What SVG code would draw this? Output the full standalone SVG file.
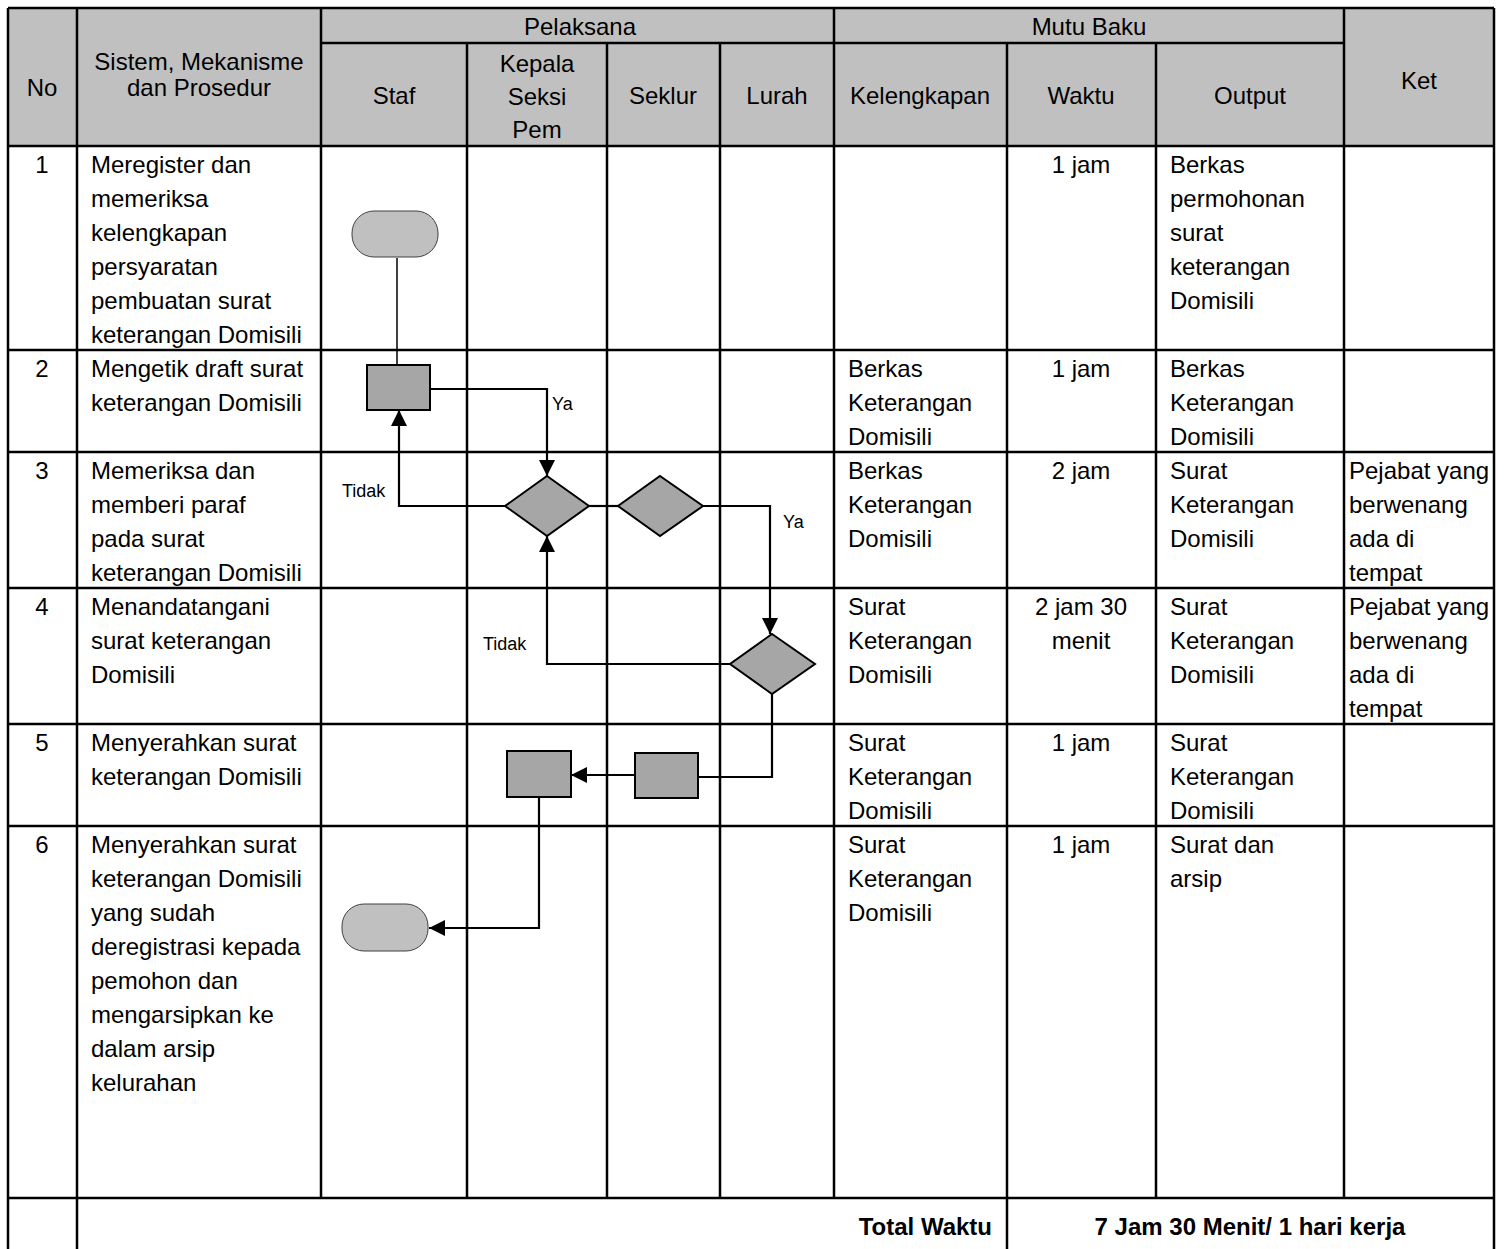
<svg xmlns="http://www.w3.org/2000/svg" width="1507" height="1249" viewBox="0 0 1507 1249">
<style>
text{font-family:"Liberation Sans",Arial,sans-serif;font-size:24px;fill:#000}
.c{text-anchor:middle}
.b{font-weight:bold}
.s{font-size:18px}
.grid{stroke:#000;stroke-width:2.5;fill:none}
.conn{stroke:#000;stroke-width:2.2;fill:none}
.thin{stroke:#000;stroke-width:1.5;fill:none}
.term{fill:#c0c0c0;stroke:#404040;stroke-width:1}
.proc{fill:#a6a6a6;stroke:#000;stroke-width:2}
.dec{fill:#a6a6a6;stroke:#000;stroke-width:2}
</style>
<defs>
<marker id="arr" viewBox="0 0 16 16" refX="16" refY="8" markerWidth="16" markerHeight="16" orient="auto" markerUnits="userSpaceOnUse"><path d="M0,0 L16,8 L0,16 z" fill="#000"/></marker>
</defs>
<rect x="0" y="0" width="1507" height="1249" fill="#fff"/>
<g id="table">
<rect x="8" y="8" width="1486" height="138" fill="#c0c0c0"/>
<path class="grid" d="M8,8 H1494 M321,43 H1344 M8,146 H1494 M8,350 H1494 M8,452 H1494 M8,588 H1494 M8,724 H1494 M8,826 H1494 M8,1198 H1494
M8,8 V1249 M77,8 V1249 M321,8 V1198 M467,43 V1198 M607,43 V1198 M720,43 V1198 M834,8 V1198 M1007,43 V1249 M1156,43 V1198 M1344,8 V1198 M1494,8 V1249"/>
</g>
<g id="header">
<text class="c" x="42" y="96">No</text>
<text class="c" x="199" y="70">Sistem, Mekanisme</text>
<text class="c" x="199" y="96">dan Prosedur</text>
<text class="c" x="580" y="35">Pelaksana</text>
<text class="c" x="1089" y="35">Mutu Baku</text>
<text class="c" x="394" y="104">Staf</text>
<text class="c" x="537" y="72">Kepala</text>
<text class="c" x="537" y="105">Seksi</text>
<text class="c" x="537" y="138">Pem</text>
<text class="c" x="663" y="104">Seklur</text>
<text class="c" x="777" y="104">Lurah</text>
<text class="c" x="920" y="104">Kelengkapan</text>
<text class="c" x="1081" y="104">Waktu</text>
<text class="c" x="1250" y="104">Output</text>
<text class="c" x="1419" y="89">Ket</text>
</g>
<g id="row1">
<text class="c" x="42" y="173">1</text>
<text x="91" y="173">Meregister dan</text>
<text x="91" y="207">memeriksa</text>
<text x="91" y="241">kelengkapan</text>
<text x="91" y="275">persyaratan</text>
<text x="91" y="309">pembuatan surat</text>
<text x="91" y="343">keterangan Domisili</text>
<text class="c" x="1081" y="173">1 jam</text>
<text x="1170" y="173">Berkas</text>
<text x="1170" y="207">permohonan</text>
<text x="1170" y="241">surat</text>
<text x="1170" y="275">keterangan</text>
<text x="1170" y="309">Domisili</text>
</g>
<g id="row2">
<text class="c" x="42" y="377">2</text>
<text x="91" y="377">Mengetik draft surat</text>
<text x="91" y="411">keterangan Domisili</text>
<text x="848" y="377">Berkas</text>
<text x="848" y="411">Keterangan</text>
<text x="848" y="445">Domisili</text>
<text class="c" x="1081" y="377">1 jam</text>
<text x="1170" y="377">Berkas</text>
<text x="1170" y="411">Keterangan</text>
<text x="1170" y="445">Domisili</text>
</g>
<g id="row3">
<text class="c" x="42" y="479">3</text>
<text x="91" y="479">Memeriksa dan</text>
<text x="91" y="513">memberi paraf</text>
<text x="91" y="547">pada surat</text>
<text x="91" y="581">keterangan Domisili</text>
<text x="848" y="479">Berkas</text>
<text x="848" y="513">Keterangan</text>
<text x="848" y="547">Domisili</text>
<text class="c" x="1081" y="479">2 jam</text>
<text x="1170" y="479">Surat</text>
<text x="1170" y="513">Keterangan</text>
<text x="1170" y="547">Domisili</text>
<text x="1349" y="479">Pejabat yang</text>
<text x="1349" y="513">berwenang</text>
<text x="1349" y="547">ada di</text>
<text x="1349" y="581">tempat</text>
</g>
<g id="row4">
<text class="c" x="42" y="615">4</text>
<text x="91" y="615">Menandatangani</text>
<text x="91" y="649">surat keterangan</text>
<text x="91" y="683">Domisili</text>
<text x="848" y="615">Surat</text>
<text x="848" y="649">Keterangan</text>
<text x="848" y="683">Domisili</text>
<text class="c" x="1081" y="615">2 jam 30</text>
<text class="c" x="1081" y="649">menit</text>
<text x="1170" y="615">Surat</text>
<text x="1170" y="649">Keterangan</text>
<text x="1170" y="683">Domisili</text>
<text x="1349" y="615">Pejabat yang</text>
<text x="1349" y="649">berwenang</text>
<text x="1349" y="683">ada di</text>
<text x="1349" y="717">tempat</text>
</g>
<g id="row5">
<text class="c" x="42" y="751">5</text>
<text x="91" y="751">Menyerahkan surat</text>
<text x="91" y="785">keterangan Domisili</text>
<text x="848" y="751">Surat</text>
<text x="848" y="785">Keterangan</text>
<text x="848" y="819">Domisili</text>
<text class="c" x="1081" y="751">1 jam</text>
<text x="1170" y="751">Surat</text>
<text x="1170" y="785">Keterangan</text>
<text x="1170" y="819">Domisili</text>
</g>
<g id="row6">
<text class="c" x="42" y="853">6</text>
<text x="91" y="853">Menyerahkan surat</text>
<text x="91" y="887">keterangan Domisili</text>
<text x="91" y="921">yang sudah</text>
<text x="91" y="955">deregistrasi kepada</text>
<text x="91" y="989">pemohon dan</text>
<text x="91" y="1023">mengarsipkan ke</text>
<text x="91" y="1057">dalam arsip</text>
<text x="91" y="1091">kelurahan</text>
<text x="848" y="853">Surat</text>
<text x="848" y="887">Keterangan</text>
<text x="848" y="921">Domisili</text>
<text class="c" x="1081" y="853">1 jam</text>
<text x="1170" y="853">Surat dan</text>
<text x="1170" y="887">arsip</text>
</g>
<g id="total">
<text class="b" x="992" y="1235" text-anchor="end">Total Waktu</text>
<text class="b c" x="1250" y="1235">7 Jam 30 Menit/ 1 hari kerja</text>
</g>
<g id="connectors">
<path class="thin" d="M397,258 V365"/>
<path class="conn" d="M430,389 H547 V476" marker-end="url(#arr)"/>
<path class="conn" d="M505,506 H399 V410" marker-end="url(#arr)"/>
<path class="conn" d="M589,506 H618"/>
<path class="conn" d="M703,506 H770 V634" marker-end="url(#arr)"/>
<path class="conn" d="M730,664 H547 V536" marker-end="url(#arr)"/>
<path class="conn" d="M772,694 V777 H698"/>
<path class="conn" d="M635,775 H571" marker-end="url(#arr)"/>
<path class="conn" d="M539,797 V928 H429" marker-end="url(#arr)"/>
<text class="s" x="552" y="410">Ya</text>
<text class="s" x="342" y="497">Tidak</text>
<text class="s" x="783" y="528">Ya</text>
<text class="s" x="483" y="650">Tidak</text>
</g>
<g id="start"><rect class="term" x="352" y="211" width="86" height="46" rx="22" ry="22"/></g>
<g id="draft"><rect class="proc" x="367" y="365" width="63" height="45"/></g>
<g id="check1"><polygon class="dec" points="547,476 589,506 547,536 505,506"/></g>
<g id="check2"><polygon class="dec" points="660,476 703,506 660,536 618,506"/></g>
<g id="sign"><polygon class="dec" points="772,634 815,664 772,694 730,664"/></g>
<g id="handover"><rect class="proc" x="507" y="751" width="64" height="46"/></g>
<g id="seklur"><rect class="proc" x="635" y="753" width="63" height="45"/></g>
<g id="end"><rect class="term" x="342" y="904" width="86" height="47" rx="22" ry="22"/></g>
</svg>
